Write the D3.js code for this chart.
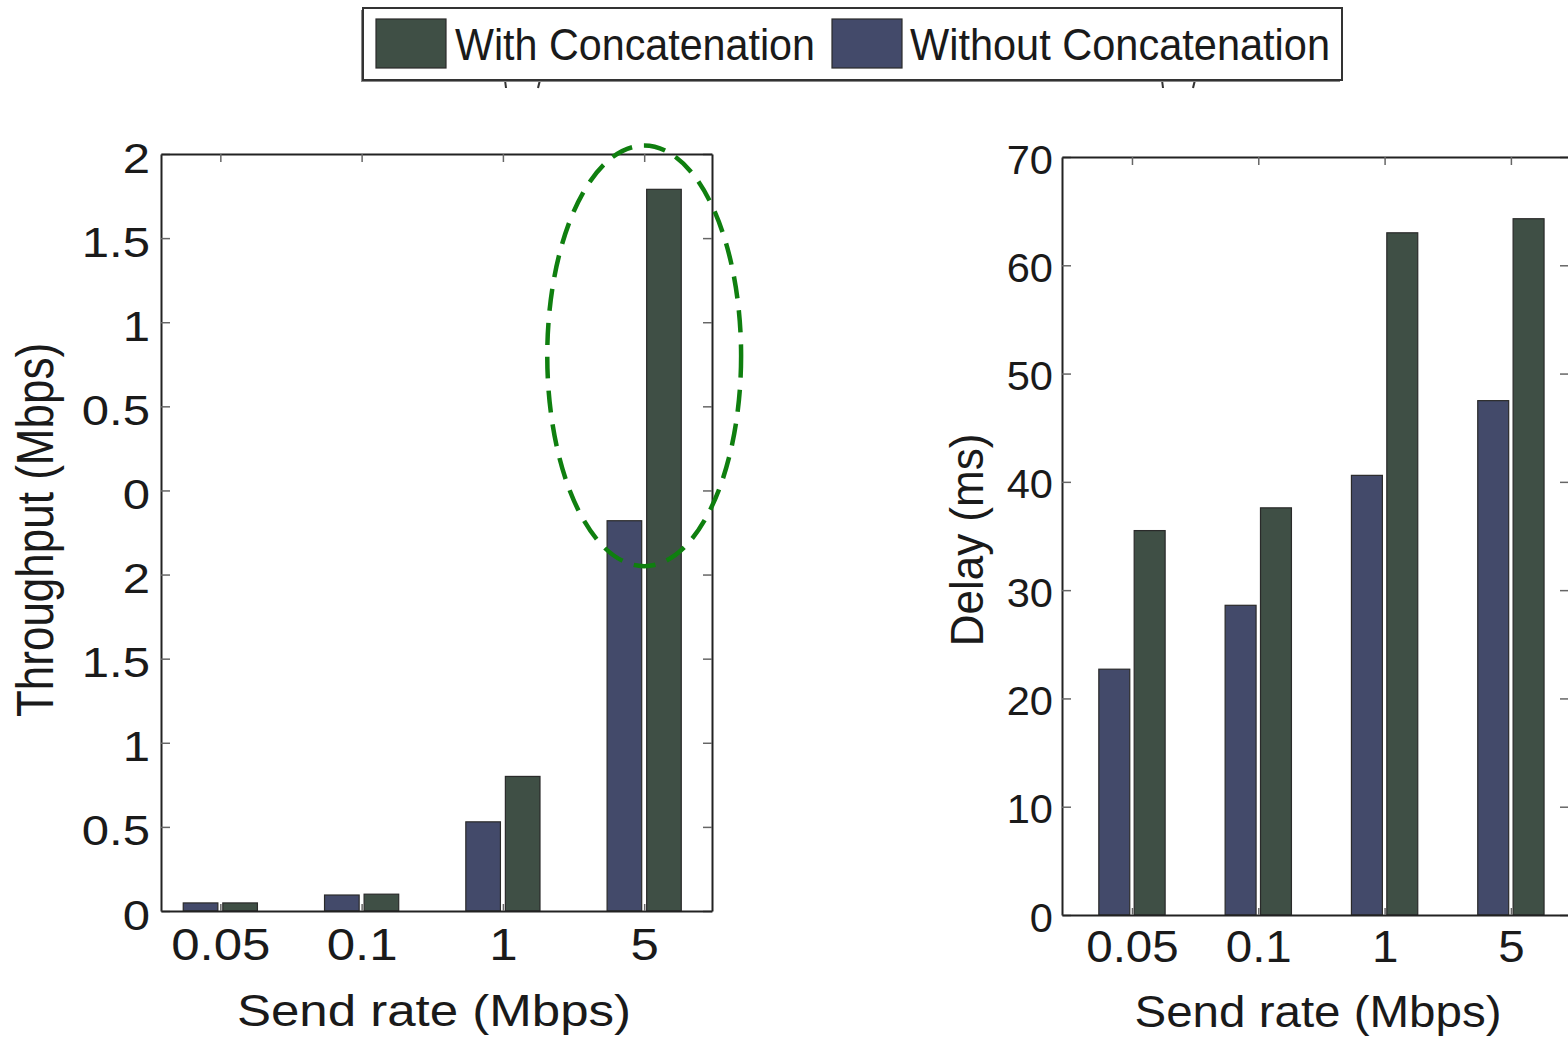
<!DOCTYPE html>
<html>
<head>
<meta charset="utf-8">
<script src="https://cdn.jsdelivr.net/npm/d3@7"></script>
<style>
  html, body { margin: 0; padding: 0; background: #fff; }
  svg { display: block; }
  text { font-family: "Liberation Sans", Arial, Helvetica, sans-serif; fill: #1a1a1a; }
</style>
</head>
<body>
<svg id="chart" width="1568" height="1037"></svg>
<script>
// ---------------- data ----------------
const categories = ["0.05", "0.1", "1", "5"];
const seriesNames = ["With Concatenation", "Without Concatenation"];
// Throughput plot (values on the plot's own vertical scale, which runs 0..4.5)
const throughputWith    = [0.048, 0.10, 0.80, 4.29];
const throughputWithout = [0.048, 0.095, 0.53, 2.32];
const throughputTickValues = [0, 0.5, 1, 1.5, 2, 2.5, 3, 3.5, 4, 4.5];
const throughputTickLabels = ["0", "0.5", "1", "1.5", "2", "0", "0.5", "1", "1.5", "2"];
// Delay plot (ms)
const delayWith    = [35.5, 37.6, 63.0, 64.3];
const delayWithout = [22.7, 28.6, 40.6, 47.5];
const delayTickValues = [0, 10, 20, 30, 40, 50, 60, 70];
// highlight annotation around the "5" group of the throughput plot (data units)
const highlight = { index: 3, y: 3.3, rxUnits: 0.686, ryUnits: 1.25 };

// ---------------- style ----------------
const colWith = "#3f4f45";
const colWithout = "#434a6a";
const fontFam = '"Liberation Sans", Arial, Helvetica, sans-serif';

const svg = d3.select("#chart");

function styleAxis(g) {
  g.select(".domain").attr("stroke", "#222").attr("stroke-width", 2);
  g.selectAll(".tick line").attr("stroke", "#666").attr("stroke-width", 1.5);
}

function drawPanel(opt) {
  const x = d3.scaleLinear().domain(opt.xDomain).range(opt.xRange);
  const y = d3.scaleLinear().domain(opt.yDomain).range(opt.yRange);
  const g = svg.append("g");
  const bw = 0.245, off = 0.14;

  // bars
  const groups = [
    { vals: opt.without, dx: -off, col: colWithout },
    { vals: opt.with, dx: off, col: colWith }
  ];
  groups.forEach(s => {
    g.selectAll(null).data(s.vals).enter().append("rect")
      .attr("x", (d, i) => x(i + s.dx - bw / 2))
      .attr("width", (d, i) => x(i + s.dx + bw / 2) - x(i + s.dx - bw / 2))
      .attr("y", d => y(d))
      .attr("height", d => y(0) - y(d))
      .attr("fill", s.col)
      .attr("stroke", "#2a2a2a")
      .attr("stroke-width", 1.2);
  });

  // left axis
  const gl = g.append("g").attr("transform", `translate(${opt.xRange[0]},0)`)
    .call(d3.axisLeft(y).tickValues(opt.yTicks).tickFormat((d, i) => opt.yLabels[i])
      .tickSizeInner(-9).tickSizeOuter(0));
  styleAxis(gl);
  gl.selectAll(".tick text")
    .attr("x", null).attr("dy", null)
    .attr("text-anchor", "end")
    .attr("transform", `translate(${-opt.yLabelGap},${opt.yLabelDy}) scale(${opt.yLabelSx},1)`)
    .style("font-family", fontFam).style("font-size", opt.yLabelSize + "px").style("fill", "#1a1a1a");

  // right axis
  const gr = g.append("g").attr("transform", `translate(${opt.xRange[1]},0)`)
    .call(d3.axisRight(y).tickValues(opt.yTicks).tickFormat("").tickSizeInner(-9).tickSizeOuter(0));
  styleAxis(gr);

  // top axis
  const gt = g.append("g").attr("transform", `translate(0,${opt.yRange[1]})`)
    .call(d3.axisTop(x).tickValues(d3.range(categories.length)).tickFormat("").tickSizeInner(-8).tickSizeOuter(0));
  styleAxis(gt);

  // bottom axis
  const gb = g.append("g").attr("transform", `translate(0,${opt.yRange[0]})`)
    .call(d3.axisBottom(x).tickValues(d3.range(categories.length)).tickFormat(i => categories[i])
      .tickSizeInner(-7).tickSizeOuter(0));
  styleAxis(gb);
  gb.selectAll(".tick text")
    .attr("y", null).attr("dy", null)
    .attr("text-anchor", "middle")
    .attr("transform", `translate(0,${opt.xLabelDy}) scale(${opt.xLabelSx},1)`)
    .style("font-family", fontFam).style("font-size", "44px").style("fill", "#1a1a1a");

  // x title
  g.append("text")
    .attr("text-anchor", "middle")
    .attr("transform", `translate(${opt.xTitleX},${opt.xTitleY}) scale(${opt.xLabelSx},1)`)
    .style("font-size", "44px")
    .text("Send rate (Mbps)");

  // y title
  g.append("text")
    .attr("text-anchor", "middle")
    .attr("transform", `translate(${opt.yTitleX},${opt.yTitleY}) scale(${opt.yLabelSx},1) rotate(-90)`)
    .style("font-size", "44px")
    .text(opt.yTitle);

  return { x, y, g };
}

// fragments of panel captions peeking out below the legend box
[[505, 540], [1162, 1195]].forEach(([a, b]) => {
  svg.append("path").attr("d", `M${a},80 L${a + 1},88`).attr("stroke", "#333").attr("stroke-width", 2).attr("fill", "none");
  svg.append("path").attr("d", `M${b},80 L${b - 2},88`).attr("stroke", "#333").attr("stroke-width", 2).attr("fill", "none");
});

const left = drawPanel({
  xDomain: [-0.42, 3.48], xRange: [161, 712],
  yDomain: [0, 4.5], yRange: [911, 154],
  with: throughputWith, without: throughputWithout,
  yTicks: throughputTickValues, yLabels: throughputTickLabels,
  yLabelGap: 11, yLabelDy: 18, yLabelSx: 1.17, yLabelSize: 42,
  xLabelDy: 49, xLabelSx: 1.16,
  xTitleX: 434, xTitleY: 1026,
  yTitleX: 53, yTitleY: 530, yTitle: "Throughput (Mbps)"
});

drawPanel({
  xDomain: [-0.554, 3.46], xRange: [1062, 1569],
  yDomain: [0, 70], yRange: [915, 157],
  with: delayWith, without: delayWithout,
  yTicks: delayTickValues, yLabels: delayTickValues.map(String),
  yLabelGap: 9, yLabelDy: 16, yLabelSx: 1.04, yLabelSize: 40,
  xLabelDy: 47, xLabelSx: 1.08,
  xTitleX: 1318, xTitleY: 1027,
  yTitleX: 983, yTitleY: 540, yTitle: "Delay (ms)"
});

// dashed highlight ellipse
const ex = left.x, ey = left.y;
svg.append("ellipse")
  .attr("cx", ex(highlight.index))
  .attr("cy", ey(highlight.y))
  .attr("rx", ex(highlight.index + highlight.rxUnits) - ex(highlight.index))
  .attr("ry", ey(0) - ey(highlight.ryUnits))
  .attr("fill", "none")
  .attr("stroke", "#0f7f0f")
  .attr("stroke-width", 4.5)
  .attr("stroke-dasharray", "22 12");

// legend
const lg = svg.append("g");
lg.append("rect").attr("x", 361).attr("y", 10).attr("width", 979).attr("height", 72)
  .attr("fill", "#888");
lg.append("rect").attr("x", 363).attr("y", 8).attr("width", 979).attr("height", 72)
  .attr("fill", "#fff").attr("stroke", "#333").attr("stroke-width", 2);
const legendItems = [
  { name: seriesNames[0], col: colWith, sx: 376, tx: 455, tw: 360 },
  { name: seriesNames[1], col: colWithout, sx: 832, tx: 910, tw: 420 }
];
legendItems.forEach(it => {
  lg.append("rect").attr("x", it.sx).attr("y", 19).attr("width", 70).attr("height", 49)
    .attr("fill", it.col).attr("stroke", "#2a2a2a").attr("stroke-width", 1.2);
  lg.append("text").attr("x", it.tx).attr("y", 60)
    .attr("textLength", it.tw).attr("lengthAdjust", "spacingAndGlyphs")
    .style("font-size", "45px").text(it.name);
});
</script>
</body>
</html>
